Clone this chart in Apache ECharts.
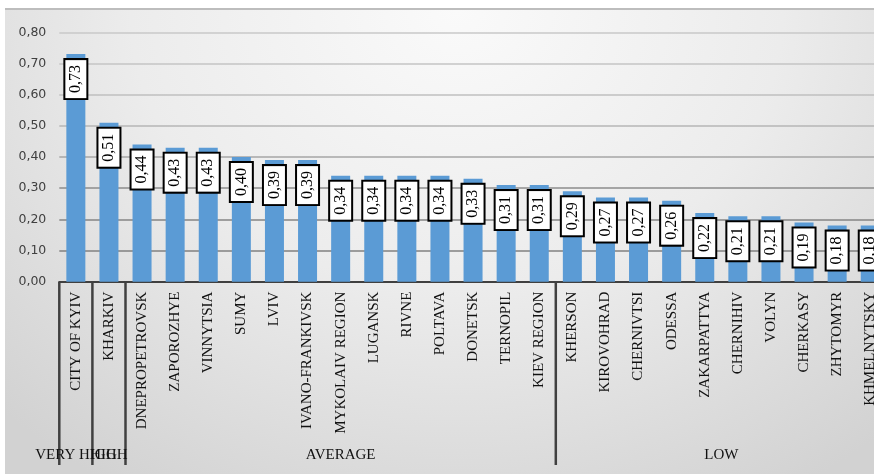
<!DOCTYPE html>
<html>
<head>
<meta charset="utf-8">
<script src="https://cdn.jsdelivr.net/npm/echarts@6/dist/echarts.min.js"></script>
<style>
html,body{margin:0;padding:0;background:#fff;width:874px;height:474px;overflow:hidden;}
#bg{position:absolute;left:5px;top:8px;width:869px;height:466px;border-top:2px solid #bdbdbd;
background:radial-gradient(ellipse 75% 120% at 52% 0%, #fafafa 0%, #ececec 50%, #d2d2d2 100%);}
#chart{position:absolute;left:0;top:0;width:874px;height:474px;}
</style>
</head>
<body>
<div id="bg"></div>
<div id="chart"></div>
<script>
const categories = ['CITY OF KYIV','KHARKIV','DNEPROPETROVSK','ZAPOROZHYE','VINNYTSIA','SUMY','LVIV','IVANO-FRANKIVSK','MYKOLAIV REGION','LUGANSK','RIVNE','POLTAVA','DONETSK','TERNOPIL','KIEV REGION','KHERSON','KIROVOHRAD','CHERNIVTSI','ODESSA','ZAKARPATTYA','CHERNIHIV','VOLYN','CHERKASY','ZHYTOMYR','KHMELNYTSKY'];
const values = [0.73,0.51,0.44,0.43,0.43,0.40,0.39,0.39,0.34,0.34,0.34,0.34,0.33,0.31,0.31,0.29,0.27,0.27,0.26,0.22,0.21,0.21,0.19,0.18,0.18];
const groupNames = ['VERY HIGH','HIGH','AVERAGE','LOW'];
const groupStart = [0,1,2,15];
const groupEnd = [0,1,14,24];
const yTicks = [0,0.1,0.2,0.3,0.4,0.5,0.6,0.7,0.8];

const fmt = v => Number(v).toFixed(2).replace('.', ',');
const chart = echarts.init(document.getElementById('chart'), null, {renderer:'canvas'});
chart.setOption({
  backgroundColor: 'transparent',
  animation: false,
  grid: {left: 59.3, top: 32.3, width: 827.5, height: 249.4, containLabel: false, outerBoundsMode: 'none'},
  xAxis: {
    type: 'category', data: categories, boundaryGap: true,
    axisLine: {show: true, lineStyle: {color: '#404040', width: 2}},
    axisTick: {show: false},
    axisLabel: {interval: 0, rotate: 90, margin: 10, fontFamily: 'Liberation Serif', fontSize: 15, color: '#111'},
    splitLine: {show: false}
  },
  yAxis: {
    type: 'value', min: yTicks[0], max: yTicks[yTicks.length-1], interval: 0.1,
    axisLine: {show: false}, axisTick: {show: false},
    axisLabel: {formatter: fmt, margin: 13, fontFamily: 'DejaVu Sans', fontSize: 12.5, color: '#404040'},
    splitLine: {show: true, lineStyle: {width: 1.5, color: ['#7a7a7a','#808080','#858585','#8c8c8c','#a6a6a6','#b6b6b6','#bfbfbf','#c4c4c4','#c8c8c8']}}
  },
  series: [{
    type: 'bar', data: values, barWidth: 19,
    itemStyle: {color: '#5b9bd5'},
    label: {
      show: true, position: 'insideTop', distance: 6, rotate: 90, align: 'right', verticalAlign: 'middle',
      formatter: p => fmt(p.value), fontFamily: 'Liberation Serif', fontSize: 16, lineHeight: 15, color: '#000',
      backgroundColor: '#fff', borderColor: '#000', borderWidth: 2, padding: [3,5,3,5]
    }
  }]
});

// multi-level category decorations, placed through the axis scale
const x0 = chart.convertToPixel({xAxisIndex: 0}, categories[0]);
const x1 = chart.convertToPixel({xAxisIndex: 0}, categories[1]);
const band = x1 - x0;
const yAxisPix = chart.convertToPixel({yAxisIndex: 0}, 0);
const lineBottom = 465;
const graphics = [];
groupNames.forEach((name, i) => {
  const left = chart.convertToPixel({xAxisIndex: 0}, categories[groupStart[i]]) - band/2;
  const right = chart.convertToPixel({xAxisIndex: 0}, categories[groupEnd[i]]) + band/2;
  graphics.push({type: 'line', shape: {x1: left, y1: yAxisPix, x2: left, y2: lineBottom}, style: {stroke: '#404040', lineWidth: 2.5}, z: 10});
  if (i === groupNames.length - 1) {
    graphics.push({type: 'line', shape: {x1: right, y1: yAxisPix, x2: right, y2: lineBottom}, style: {stroke: '#404040', lineWidth: 2.5}, z: 10});
  }
  graphics.push({type: 'text', x: (left + right)/2, y: 455, style: {text: name, font: '15px "Liberation Serif"', fill: '#111', align: 'center', verticalAlign: 'middle'}, z: 11});
});
chart.setOption({graphic: graphics});
</script>
</body>
</html>
